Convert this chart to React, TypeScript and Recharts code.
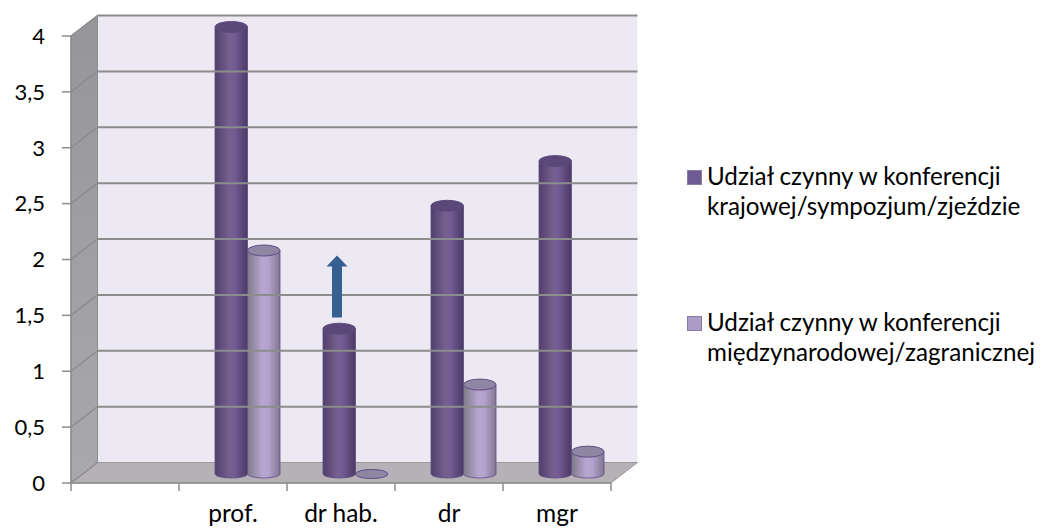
import React from "react";
import { BarChart, Bar, XAxis, YAxis, Legend, ReferenceArea, ReferenceLine, ReferenceDot } from "recharts";

const categories = ["", "prof.", "dr hab.", "dr", "mgr"];
const krajowe = [null, 4, 1.3, 2.4, 2.8];
const miedzynarodowe = [null, 2, 0, 0.8, 0.2];
const yTicks = [0, 0.5, 1, 1.5, 2, 2.5, 3, 3.5, 4];

const NAME_A = "Udział czynny w konferencji krajowej/sympozjum/zjeździe";
const NAME_B = "Udział czynny w konferencji międzynarodowej/zagranicznej";
const FONT = "Lato, 'Open Sans', sans-serif";

const data = categories.map((name, i) => ({ name, a: krajowe[i], b: miedzynarodowe[i] }));

// depth of the fake 3d box
const DX = 26.5;
const DY = 20.5;
// the cylinders stand in the middle of the floor
const BAR_DX = 14;
const BAR_DY = 9;

const Walls = ({ x, y, width, height }: any) => (
  <g>
    <polygon points={`${x + DX},${y - DY} ${x + width + DX},${y - DY} ${x + width + DX},${y + height - DY} ${x + DX},${y + height - DY}`} fill="#ece9f2" />
    <polygon points={`${x},${y} ${x + DX},${y - DY} ${x + DX},${y + height - DY} ${x},${y + height}`} fill="url(#sideWall)" stroke="#8e8e8e" strokeWidth={1} />
    <polygon points={`${x},${y + height} ${x + DX},${y + height - DY} ${x + width + DX},${y + height - DY} ${x + width},${y + height}`} fill="#b6b1b6" stroke="#9a9a9a" strokeWidth={1} />
  </g>
);

const GridLine = ({ x1, y1, x2, y2, isFloor }: any) => (
  <g stroke="#8c8c8c" fill="none">
    {!isFloor && <line x1={x1 + DX} y1={y1 - DY} x2={x2 + DX} y2={y2 - DY} strokeWidth={2} />}
    <line x1={x1} y1={y1} x2={x1 + DX} y2={y1 - DY} strokeWidth={1.5} />
  </g>
);

const Cylinder = ({ x, y, width, height, body, cap, edge }: any) => {
  const rx = width / 2;
  const cx = x + rx + BAR_DX;
  const top = y - BAR_DY;
  const bottom = y + height - BAR_DY;
  const left = cx - rx;
  return (
    <g>
      {height > 0 && (
        <path
          d={`M${left},${top} L${left},${bottom} A${rx},4 0 0 0 ${left + width},${bottom} L${left + width},${top} Z`}
          fill={`url(#${body})`}
          stroke={edge}
          strokeWidth={0.8}
        />
      )}
      <ellipse cx={cx} cy={top} rx={rx} ry={height > 0 ? 5.5 : 4.5} fill={cap} stroke={edge} strokeWidth={1} />
    </g>
  );
};

const BarA = (props: any) => <Cylinder {...props} body="darkBody" cap="#5b4778" edge="#5d4a82" />;
const BarB = (props: any) => <Cylinder {...props} body="lightBody" cap="#8f86a4" edge="#604c84" />;

const Arrow = ({ cx, cy }: any) => {
  const x = cx - 4;
  const y = cy + 2;
  return (
    <polygon
      points={`${x - 5},${y} ${x + 5},${y} ${x + 5},${y - 51} ${x + 10.5},${y - 51} ${x},${y - 62} ${x - 10.5},${y - 51} ${x - 5},${y - 51}`}
      fill="#376092"
    />
  );
};

const XTick = ({ x, y, payload }: any) => {
  const half = 54;
  const isLast = payload.value === categories[categories.length - 1];
  return (
    <g>
      <line x1={x - half} y1={y - 8} x2={x - half} y2={y} stroke="#8c8c8c" strokeWidth={1.5} />
      {isLast && <line x1={x + half} y1={y - 8} x2={x + half} y2={y} stroke="#8c8c8c" strokeWidth={1.5} />}
      <text x={x} y={y + 31} textAnchor="middle" fontSize={24.5} fontFamily={FONT} fill="#000">
        {payload.value}
      </text>
    </g>
  );
};

const LegendBox = ({ payload }: any) => (
  <div style={{ position: "relative", height: 529 }}>
    {(payload || []).map((item: any, i: number) => (
      <div key={item.value} style={{ position: "absolute", left: 7, top: i === 0 ? 161 : 307, display: "flex", alignItems: "flex-start" }}>
        <span style={{ width: 13, height: 13, marginTop: 9, marginRight: 5, background: item.color, border: "1px solid #8a7aa6", flex: "none" }} />
        <span style={{ width: 340, fontSize: 24.2, lineHeight: "29.5px", fontFamily: FONT, color: "#000" }}>{item.value}</span>
      </div>
    ))}
  </div>
);

export default function App() {
  return (
    <div style={{ position: "absolute", left: 0, top: 0, width: 1047, height: 529, background: "#fff" }}>
      <BarChart
        width={1047}
        height={529}
        data={data}
        barGap={0}
        barSize={32.5}
        margin={{ top: 36, right: 69, bottom: 0, left: 0 }}
      >
        <defs>
          <linearGradient id="sideWall" x1="0" y1="0" x2="0" y2="1">
            <stop offset="0" stopColor="#96959a" />
            <stop offset="1" stopColor="#a9a8ac" />
          </linearGradient>
          <linearGradient id="darkBody" x1="0" y1="0" x2="1" y2="0">
            <stop offset="0" stopColor="#4f3f6c" />
            <stop offset="0.45" stopColor="#77608f" />
            <stop offset="0.6" stopColor="#735b94" />
            <stop offset="1" stopColor="#4a3a64" />
          </linearGradient>
          <linearGradient id="lightBody" x1="0" y1="0" x2="1" y2="0">
            <stop offset="0" stopColor="#7e7a88" />
            <stop offset="0.45" stopColor="#b6a6d0" />
            <stop offset="0.65" stopColor="#b3a2cd" />
            <stop offset="1" stopColor="#7f7690" />
          </linearGradient>
        </defs>
        <ReferenceArea y1={0} y2={4} shape={<Walls />} ifOverflow="visible" />
        {yTicks.map((v, i) => (
          <ReferenceLine key={i} y={v} shape={<GridLine isFloor={v === 0} />} ifOverflow="visible" />
        ))}
        <XAxis
          dataKey="name"
          interval={0}
          height={46}
          tickLine={false}
          axisLine={{ stroke: "#8c8c8c", strokeWidth: 1.5 }}
          tick={<XTick />}
        />
        <YAxis
          width={71}
          domain={[0, 4]}
          ticks={yTicks}
          tickSize={9}
          tickMargin={17}
          tickFormatter={(v: number) => String(v).replace(".", ",")}
          tick={{ fontSize: 22, fontFamily: FONT, fill: "#000" }}
          tickLine={{ stroke: "#8c8c8c", strokeWidth: 1.5 }}
          axisLine={{ stroke: "#8c8c8c", strokeWidth: 1.5 }}
        />
        <Legend
          layout="vertical"
          align="right"
          verticalAlign="top"
          width={367}
          wrapperStyle={{ left: 680, top: 0, width: 367 }}
          content={<LegendBox />}
        />
        <Bar dataKey="a" name={NAME_A} fill="#6f5a94" shape={<BarA />} isAnimationActive={false} />
        <Bar dataKey="b" name={NAME_B} fill="#ac9cc8" shape={<BarB />} isAnimationActive={false} />
        <ReferenceDot x="dr hab." y={1.5} shape={<Arrow />} ifOverflow="visible" />
      </BarChart>
    </div>
  );
}
